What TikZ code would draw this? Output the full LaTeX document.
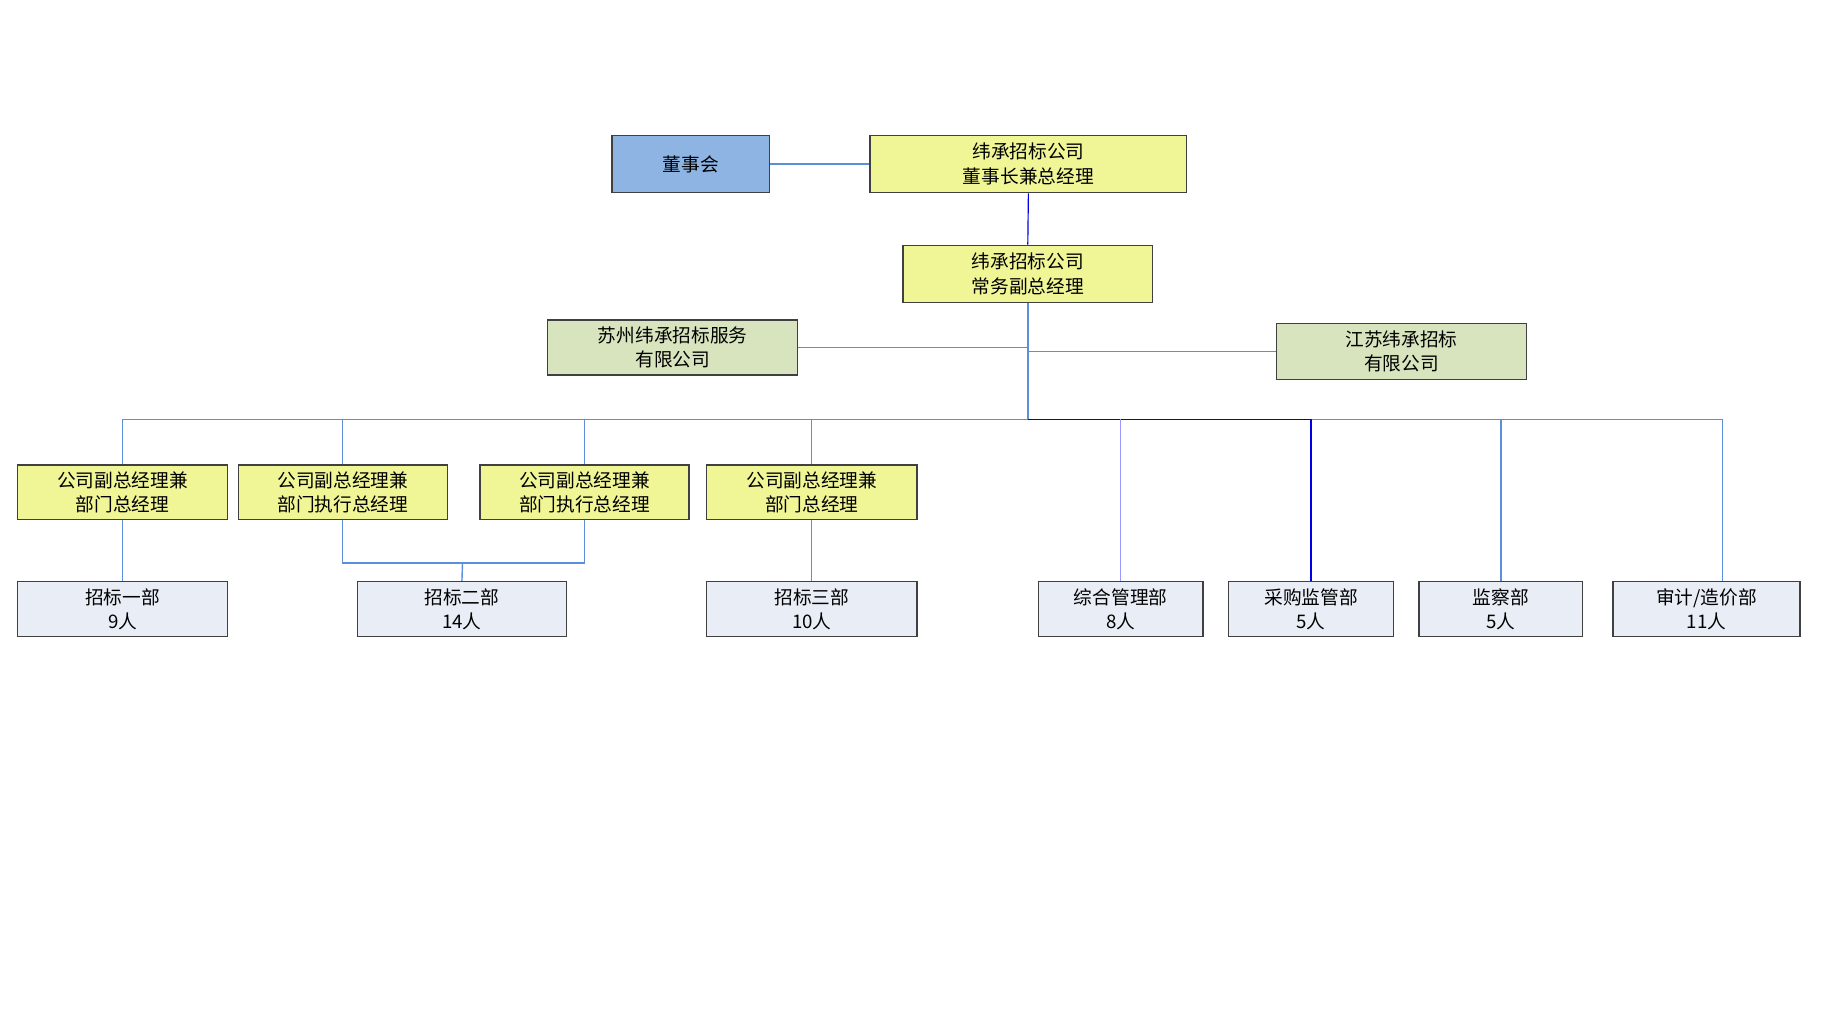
\documentclass[tikz,border=0pt]{standalone}
\usepackage{fontspec}
\setmainfont{Noto Sans CJK SC}
\begin{document}
\begin{tikzpicture}[x=1pt,y=-1pt,
 box/.style={draw=black!75,line width=1.2pt,inner sep=0pt,align=center,font=\fontsize{16}{21}\selectfont},
 yel/.style={box,fill=yellow!45!white!95!green},
 blu/.style={box,fill=blue!30!cyan!35!white!85!black},
 grn/.style={box,fill=green!60!black!15!white},
 gry/.style={box,fill=blue!5!white!95!black},
 ln/.style={draw=blue!45!cyan!70!black!90,line width=1pt},
 lnl/.style={draw=blue!40!white,line width=1pt},
 lnd/.style={draw=blue!90!black,line width=1pt}]
\useasboundingbox (0,0) rectangle (1560,872);
\definecolor{yb}{HTML}{F0F596}\definecolor{bb}{HTML}{8EB4E3}\definecolor{gb}{HTML}{D7E4BD}\definecolor{gr}{HTML}{E9EEF6}
\definecolor{lc}{HTML}{5B8FD8}
\tikzset{yel/.append style={fill=yb},blu/.append style={fill=bb},grn/.append style={fill=gb},gry/.append style={fill=gr},ln/.style={draw=lc,line width=1.2pt}}
\node[blu,minimum width=135,minimum height=49] (dsh) at (591.5,140.5) {董事会};
\node[yel,minimum width=271,minimum height=49] (zjl) at (880.5,140.5) {纬承招标公司\\董事长兼总经理};
\node[yel,minimum width=214,minimum height=49] (fzj) at (880,234.5) {纬承招标公司\\常务副总经理};
\node[grn,minimum width=214,minimum height=47] (sz) at (576,297.5) {苏州纬承招标服务\\有限公司};
\node[grn,minimum width=214,minimum height=48] (js) at (1200,301) {江苏纬承招标\\有限公司};
\foreach \n/\x/\w/\t in {a/105/180/公司副总经理兼\\部门总经理, b/293.5/179/公司副总经理兼\\部门执行总经理, c/500.5/179/公司副总经理兼\\部门执行总经理, d/695/180/公司副总经理兼\\部门总经理}
 \node[yel,minimum width=\w,minimum height=47] (\n) at (\x,421.5) {\t};
\node[gry,minimum width=180,minimum height=47] (b1) at (105,521.5) {招标一部\\9人};
\node[gry,minimum width=179,minimum height=47] (b2) at (395.5,521.5) {招标二部\\14人};
\node[gry,minimum width=180,minimum height=47] (b3) at (695,521.5) {招标三部\\10人};
\node[gry,minimum width=141,minimum height=47] (e1) at (959.5,521.5) {综合管理部\\8人};
\node[gry,minimum width=141,minimum height=47] (e2) at (1122.5,521.5) {采购监管部\\5人};
\node[gry,minimum width=140,minimum height=47] (e3) at (1285,521.5) {监察部\\5人};
\node[gry,minimum width=160,minimum height=47] (e4) at (1461,521.5) {审计/造价部\\11人};
\coordinate (bus) at (880,359);
\coordinate (m2) at (396,482);
\draw[ln] (dsh.east) -- (zjl.west);
\draw[lnd] (zjl.south) -- (fzj.north);
\draw[ln] (fzj.south) -- (bus);
\draw[ln] (sz.east) -- (sz.east -| bus);
\draw[ln] (js.west) -- (js.west -| bus);
\draw[ln] (a.north) -- (a.north |- bus) -- (bus);
\foreach \n in {b,c,d} \draw[ln] (\n.north) -- (\n.north |- bus);
\draw[lnd] (bus) -- (1122,359);
\draw[ln] (1122,359) -- (1475,359);
\draw[lnl] (e1.north) -- (e1.north |- bus);
\draw[lnd] (e2.north) -- (e2.north |- bus);
\draw[ln] (e3.north) -- (e3.north |- bus);
\draw[ln] (1475,497.5) -- (1475,359);
\draw[ln] (a.south) -- (b1.north);
\draw[ln] (b.south) -- (b.south |- m2) -- (c.south |- m2) -- (c.south);
\draw[ln] (m2) -- (b2.north);
\draw[ln] (d.south) -- (b3.north);
\end{tikzpicture}
\end{document}
